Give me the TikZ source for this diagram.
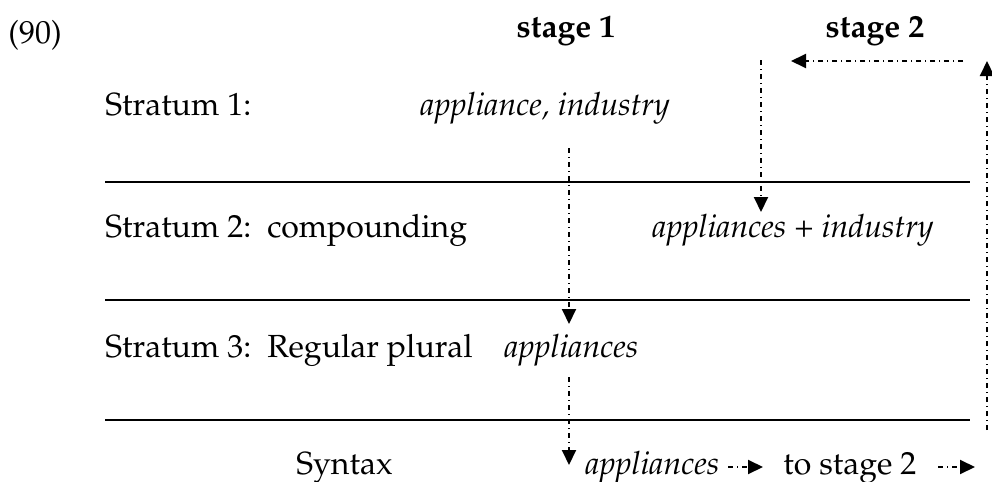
\documentclass[tikz,border=0pt]{standalone}
\usepackage[T1]{fontenc}
\usepackage{mathpazo}
\usetikzlibrary{arrows.meta}
\tikzset{
  txt/.style={inner sep=0pt, anchor=base west, font=\fontsize{16}{19}\selectfont},
  rule/.style={line width=1pt},
  flow/.style={line width=1pt, dash pattern=on 2.5pt off 2pt on 0.5pt off 2pt,
    -{Triangle[length=7.5pt,width=7pt]}},
}
\begin{document}
\begin{tikzpicture}[x=0.5pt,y=-0.5pt]
\useasboundingbox (0,0) rectangle (992,482);
% texts
\node[txt] (ex) at (8,43) {(90)};
\node[txt,anchor=base] (s1) at (566,37) {\bfseries stage 1};
\node[txt,anchor=base] (s2) at (875,37) {\bfseries stage 2};
\node[txt] (st1) at (105,115) {Stratum 1:};
\node[txt] (in1) at (420,115) {\itshape appliance, industry};
\node[txt] (st2) at (105,237) {Stratum 2:\ \ compounding};
\node[txt] (in2) at (652,237) {\textit{appliances} + \textit{industry}};
\node[txt] (st3) at (105,357) {Stratum 3:\ \ Regular plural};
\node[txt] (in3) at (504,357) {\itshape appliances};
\node[txt] (syn) at (296,474) {Syntax};
\node[txt] (in4) at (585,474) {\itshape appliances};
\node[txt] (to2) at (783,474) {to stage 2};
% rules
\coordinate (r1a) at (105,182); \coordinate (r1b) at (970,182);
\coordinate (r2a) at (105,300); \coordinate (r2b) at (970,300);
\coordinate (r3a) at (105,420); \coordinate (r3b) at (970,420);
\draw[rule] (r1a) -- (r1b);
\draw[rule] (r2a) -- (r2b);
\draw[rule] (r3a) -- (r3b);
% flow arrows
\coordinate (a1s) at (569,148); \coordinate (a1e) at (569,324);
\coordinate (a2s) at (569,377); \coordinate (a2e) at (569,465);
\coordinate (a3s) at (761,60);  \coordinate (a3e) at (761,212);
\coordinate (a4s) at (963,61);  \coordinate (a4e) at (791,61);
\coordinate (a5s) at (987,430); \coordinate (a5e) at (987,61);
\coordinate (a6s) at (728,467); \coordinate (a6e) at (763,467);
\coordinate (a7s) at (938,467); \coordinate (a7e) at (975,467);
\draw[flow] (a1s) -- (a1e);
\draw[flow] (a2s) -- (a2e);
\draw[flow] (a3s) -- (a3e);
\draw[flow] (a4s) -- (a4e);
\draw[flow] (a5s) -- (a5e);
\draw[flow] (a6s) -- (a6e);
\draw[flow] (a7s) -- (a7e);
\end{tikzpicture}
\end{document}
